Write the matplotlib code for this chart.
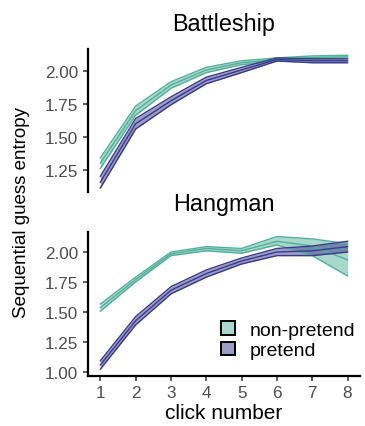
import matplotlib
matplotlib.use("Agg")
import matplotlib.pyplot as plt
import matplotlib.colors as mcolors
from matplotlib.patches import Patch
import numpy as np

plt.rcParams['font.family'] = ['Liberation Sans', 'DejaVu Sans']

clicks = [1, 2, 3, 4, 5, 6, 7, 8]

# Battleship: mean and half-width of ribbon
bs_nonpretend_mean = [1.30, 1.70, 1.895, 2.01, 2.065, 2.09, 2.105, 2.11]
bs_nonpretend_se = [0.04, 0.035, 0.025, 0.02, 0.015, 0.012, 0.012, 0.012]
bs_pretend_mean = [1.155, 1.60, 1.775, 1.93, 2.01, 2.09, 2.08, 2.08]
bs_pretend_se = [0.045, 0.04, 0.03, 0.025, 0.02, 0.012, 0.015, 0.015]

# Hangman
hm_nonpretend_mean = [1.535, 1.77, 1.985, 2.03, 2.01, 2.09, 2.05, 1.935]
hm_nonpretend_lo = [1.505, 1.75, 1.97, 2.01, 1.99, 2.06, 1.97, 1.80]
hm_nonpretend_hi = [1.565, 1.79, 2.00, 2.045, 2.03, 2.13, 2.11, 2.07]
hm_pretend_mean = [1.055, 1.425, 1.68, 1.82, 1.925, 2.00, 2.01, 2.045]
hm_pretend_lo = [1.02, 1.39, 1.65, 1.79, 1.90, 1.97, 1.97, 2.00]
hm_pretend_hi = [1.09, 1.46, 1.71, 1.85, 1.95, 2.03, 2.05, 2.09]

groups = ['non-pretend', 'pretend']
line_colors = ['#52b09a', '#3a3a8c']

fig = plt.figure(figsize=(3.65, 4.27), dpi=100)
ax1 = fig.add_axes([0.241, 0.548, 0.745, 0.335])
ax2 = fig.add_axes([0.241, 0.118, 0.745, 0.337])


def draw_band(ax, mean, lo, hi, color):
    ax.fill_between(clicks, lo, hi, color=color, alpha=0.5, linewidth=0)
    for y in (lo, mean, hi):
        ax.plot(clicks, y, color=color, lw=1.0)


bs_np_lo = np.array(bs_nonpretend_mean) - np.array(bs_nonpretend_se)
bs_np_hi = np.array(bs_nonpretend_mean) + np.array(bs_nonpretend_se)
bs_p_lo = np.array(bs_pretend_mean) - np.array(bs_pretend_se)
bs_p_hi = np.array(bs_pretend_mean) + np.array(bs_pretend_se)

draw_band(ax1, bs_nonpretend_mean, bs_np_lo, bs_np_hi, line_colors[0])
draw_band(ax1, bs_pretend_mean, bs_p_lo, bs_p_hi, line_colors[1])
draw_band(ax2, hm_nonpretend_mean, hm_nonpretend_lo, hm_nonpretend_hi, line_colors[0])
draw_band(ax2, hm_pretend_mean, hm_pretend_lo, hm_pretend_hi, line_colors[1])

yticks = [1.00, 1.25, 1.50, 1.75, 2.00]
for ax in (ax1, ax2):
    ax.set_xlim(0.65, 8.35)
    for s in ('top', 'right'):
        ax.spines[s].set_visible(False)
    ax.spines['left'].set_linewidth(1.6)
    ax.spines['bottom'].set_linewidth(1.6)
    ax.tick_params(axis='both', labelsize=12.3, labelcolor='#4d4d4d',
                   color='#333333', length=3.5, width=1.1, pad=3.5)
    ax.set_yticks(yticks)
    ax.set_yticklabels([f'{t:.2f}' for t in yticks])

ax1.set_ylim(1.08, 2.17)
ax2.set_ylim(0.966, 2.17)

ax1.spines['bottom'].set_visible(False)
ax1.set_xticks([])

ax2.set_xticks(clicks)
ax2.set_xlabel('click number', fontsize=15, labelpad=2)

ax1.set_title('Battleship', fontsize=16.8, pad=14)
ax2.set_title('Hangman', fontsize=16.8, pad=15.5)

fig.text(0.058, 0.502, 'Sequential guess entropy', rotation=90,
         fontsize=13.5, ha='center', va='center')

handles = [Patch(facecolor=(*mcolors.to_rgb(c), 0.5),
                 edgecolor='black', linewidth=1.4) for c in line_colors]
ax2.legend(handles, groups, loc='upper left', bbox_to_anchor=(0.49, 0.38),
           frameon=False, fontsize=14, handlelength=0.72, handleheight=0.72,
           handletextpad=0.75, labelspacing=0.15, borderpad=0,
           borderaxespad=0)

fig.savefig('out.png', dpi=100)
